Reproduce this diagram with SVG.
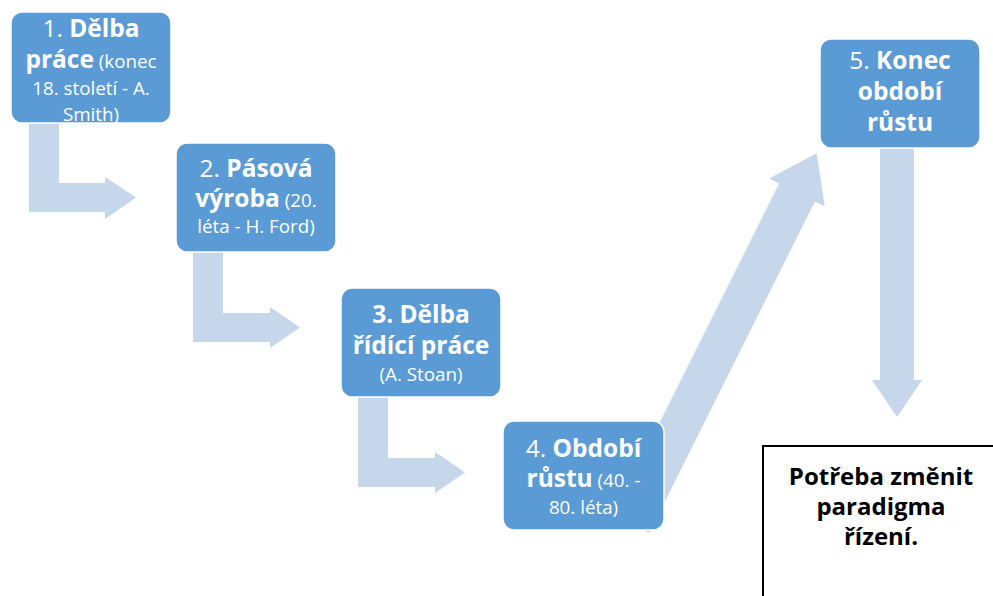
<svg xmlns="http://www.w3.org/2000/svg" width="993" height="596" viewBox="0 0 993 596">
<style>
.box{fill:#5b9bd5;stroke:#ffffff;stroke-width:1.5}
.arr{fill:#c6d6eb}
text{font-family:"Open Sans","Noto Sans","Liberation Sans",sans-serif;fill:#ffffff;text-anchor:middle}
.b{font-size:24.5px;font-weight:700}
.r{font-size:24.5px;font-weight:400}
.s{font-size:18.8px;font-weight:400}
.note{fill:#000000;font-size:24px;font-weight:700}
</style>
<rect x="0" y="0" width="993" height="596" fill="#ffffff"/>
<g id="connectors">
<polygon class="arr" points="29,123 59,123 59,183 105,183 105,177 136,197.5 105,219 105,212 29,212"/>
<polygon class="arr" points="193,252 223,252 223,313 270,313 270,307 300,327.5 270,348 270,342 193,342"/>
<polygon class="arr" points="358,397 388,397 388,458 435,458 435,452 465,472.5 435,493 435,487 358,487"/>
<polygon class="arr" points="613.3,515.3 779.1,183.6 769.3,178.6 816.7,153.2 824.7,206.4 814.9,201.4 649.1,533.1"/>
<polygon class="arr" points="880,148 914,148 914,380 922,380 897,417 872,380 880,380"/>
</g>
<g id="node1">
<rect class="box" x="11" y="12" width="160" height="111" rx="11"/>
<text x="91" y="37"><tspan class="r">1. </tspan><tspan class="b">Dělba</tspan></text>
<text x="91" y="68"><tspan class="b">práce</tspan><tspan class="s"> (konec</tspan></text>
<text x="91" y="95" class="s">18. století - A.</text>
<text x="91" y="121" class="s">Smith)</text>
</g>
<g id="node2">
<rect class="box" x="176" y="143" width="160" height="109" rx="11"/>
<text x="256" y="177"><tspan class="r">2. </tspan><tspan class="b">Pásová</tspan></text>
<text x="256" y="207"><tspan class="b">výroba</tspan><tspan class="s"> (20.</tspan></text>
<text x="256" y="233" class="s">léta - H. Ford)</text>
</g>
<g id="node3">
<rect class="box" x="341" y="288" width="160" height="109" rx="11"/>
<text x="421" y="323" class="b">3. Dělba</text>
<text x="421" y="354" class="b">řídící práce</text>
<text x="421" y="381" class="s">(A. Stoan)</text>
</g>
<g id="node4">
<rect class="box" x="503" y="421" width="161" height="109" rx="11"/>
<text x="583.5" y="457"><tspan class="r">4. </tspan><tspan class="b">Období</tspan></text>
<text x="583.5" y="487"><tspan class="b">růstu</tspan><tspan class="s"> (40. -</tspan></text>
<text x="583.5" y="514" class="s">80. léta)</text>
</g>
<g id="node5">
<rect class="box" x="820" y="39" width="160" height="109" rx="11"/>
<text x="900" y="69"><tspan class="r">5. </tspan><tspan class="b">Konec</tspan></text>
<text x="900" y="100" class="b">období</text>
<text x="900" y="131" class="b">růstu</text>
</g>
<g id="note">
<rect x="763" y="446" width="240" height="160" fill="#ffffff" stroke="#000000" stroke-width="2"/>
<text x="881" y="485" class="note">Potřeba změnit</text>
<text x="881" y="515" class="note">paradigma</text>
<text x="881" y="545" class="note">řízení.</text>
</g>
</svg>
